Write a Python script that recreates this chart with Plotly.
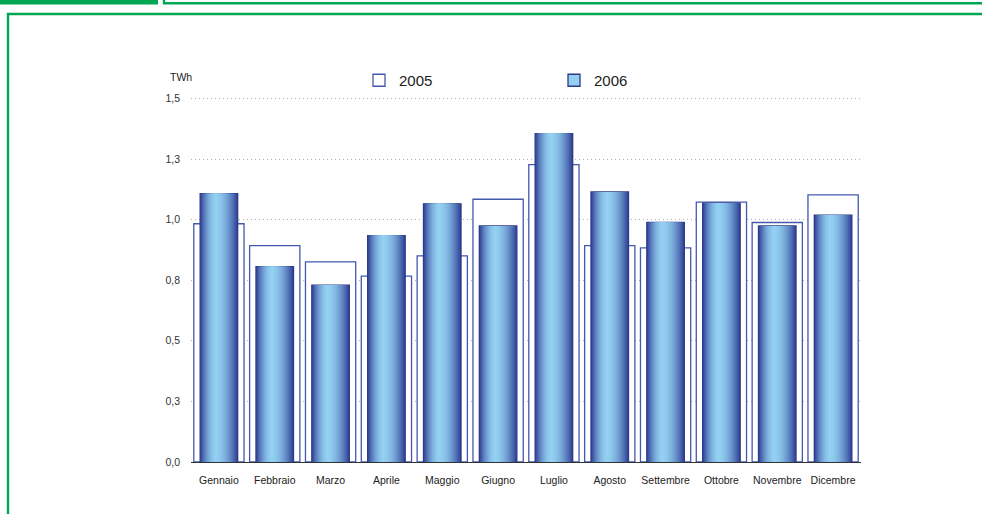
import plotly.graph_objects as go

# Monthly production, TWh
months = ["Gennaio", "Febbraio", "Marzo", "Aprile", "Maggio", "Giugno",
          "Luglio", "Agosto", "Settembre", "Ottobre", "Novembre", "Dicembre"]
prod_2005 = [0.983, 0.893, 0.826, 0.767, 0.850, 1.084,
             1.227, 0.893, 0.883, 1.072, 0.988, 1.102]
prod_2006 = [1.107, 0.806, 0.730, 0.934, 1.065, 0.974,
             1.355, 1.114, 0.988, 1.068, 0.974, 1.018]
tick_vals = [0, 0.25, 0.5, 0.75, 1.0, 1.25, 1.5]
tick_text = ["0,0", "0,3", "0,5", "0,8", "1,0", "1,3", "1,5"]

Y_TOP = 1.51
W, H = 982, 514
ML, MR, MB = 191, 121, 52
MT = 96
PW, PH = W - ML - MR, H - MT - MB

GREEN = "#00a651"
LIGHT = (0x93, 0xd0, 0xf2)
DARK = (0x31, 0x42, 0x97)


def px_x(px):
    return (px - ML) / PW


def px_y(py):
    return (H - MB - py) / PH


def mix(t):
    r, g, b = (round(l + (d - l) * t) for l, d in zip(LIGHT, DARK))
    return f"rgb({r},{g},{b})"


fig = go.Figure()

# 2005: hollow outlined bars behind
fig.add_trace(go.Bar(
    x=months, y=prod_2005, name="2005", width=0.9,
    marker=dict(color="white", line=dict(color="#4458b0", width=1.3)),
    legend="legend", hoverinfo="skip",
))

# 2006: shaded cylinder-like bars built from nested layers
bar_w = 0.672
peak = 0.42
n_layers = 24
left = -bar_w / 2
for k in range(n_layers, 0, -1):
    t = k / n_layers
    fig.add_trace(go.Bar(
        x=months, y=prod_2006,
        width=t * bar_w,
        offset=left + peak * bar_w * (1 - t),
        marker=dict(color=mix(t ** 1.8),
                    line=dict(color="#2c3a8a", width=1.3 if k == n_layers else 0)),
        showlegend=False, hoverinfo="skip",
    ))

# legend key for 2006
fig.add_trace(go.Bar(
    x=[months[0]], y=[None], name="2006",
    marker=dict(color="rgb(147,208,242)", line=dict(color="#2c3a8a", width=1.3)),
    legend="legend2", hoverinfo="skip",
))

# green page frame
frame = [
    dict(type="rect", x0=px_x(0), x1=px_x(158), y0=px_y(0), y1=px_y(4.5),
         fillcolor=GREEN, line=dict(width=0)),
    dict(type="path",
         path=f"M {px_x(164)} {px_y(0)} L {px_x(164)} {px_y(3.2)} L {px_x(982)} {px_y(3.2)}",
         line=dict(color=GREEN, width=2.4)),
    dict(type="path",
         path=f"M {px_x(8)} {px_y(514)} L {px_x(8)} {px_y(14)} L {px_x(982)} {px_y(14)}",
         line=dict(color=GREEN, width=2.4)),
]
for s in frame:
    s.update(xref="paper", yref="paper", layer="above")

fig.update_layout(
    width=W, height=H,
    margin=dict(l=ML, r=MR, t=MT, b=MB, pad=0),
    paper_bgcolor="white", plot_bgcolor="white",
    barmode="overlay",
    font=dict(family="Liberation Sans, Arial, sans-serif", color="#222"),
    shapes=frame,
    showlegend=True,
    legend=dict(orientation="h", x=px_x(359), y=px_y(80.5), xanchor="left",
                yanchor="middle", font=dict(size=15, color="#222"),
                bgcolor="rgba(0,0,0,0)"),
    legend2=dict(orientation="h", x=px_x(554), y=px_y(80.5), xanchor="left",
                 yanchor="middle", font=dict(size=15, color="#222"),
                 bgcolor="rgba(0,0,0,0)"),
    annotations=[dict(text="TWh", xref="paper", yref="paper",
                      x=px_x(168), y=px_y(76.5), xanchor="left", yanchor="middle",
                      showarrow=False, font=dict(size=10.5, color="#222"))],
)

fig.update_xaxes(
    type="category", range=[-0.5, 11.5],
    showline=True, linecolor="#333", linewidth=1.2,
    showgrid=False, ticks="", ticklabelstandoff=8,
    tickfont=dict(size=10.5, color="#222"),
)
fig.update_yaxes(
    range=[0, Y_TOP], tickvals=tick_vals, ticktext=tick_text,
    showgrid=True, gridcolor="#b0b0b0", gridwidth=1, griddash="1px,3px",
    zeroline=False, showline=False, ticks="", ticklabelstandoff=10,
    tickfont=dict(size=10.5, color="#333"),
)

fig.write_html("out.html")
